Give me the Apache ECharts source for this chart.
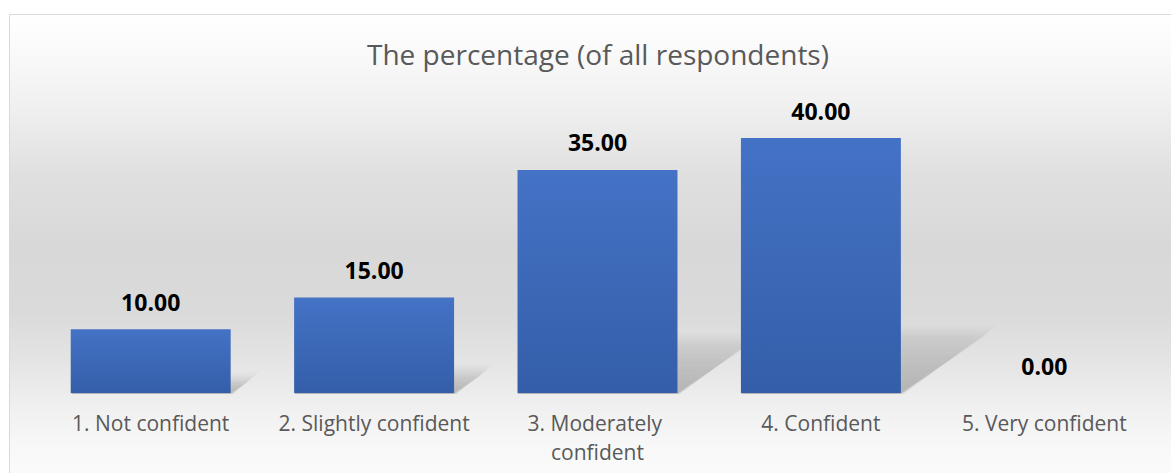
<!DOCTYPE html>
<html>
<head>
<meta charset="utf-8">
<script src="https://cdn.jsdelivr.net/npm/echarts@6/dist/echarts.min.js"></script>
<style>
  html, body { margin: 0; padding: 0; background: #ffffff; }
  #chart { width: 1171px; height: 473px; }
</style>
</head>
<body>
<div id="chart"></div>
<script>
const chartTitle = 'The percentage (of all respondents)';
const categories = ['1. Not confident', '2. Slightly confident', '3. Moderately confident', '4. Confident', '5. Very confident'];
const percentages = [10, 15, 35, 40, 0];

const chart = echarts.init(document.getElementById('chart'), null, { renderer: 'svg' });

const FONT = '"Open Sans", "DejaVu Sans", sans-serif';

const shadowData = percentages.map(function (v, i) { return [i, v]; });

const option = {
  backgroundColor: '#ffffff',
  animation: false,
  graphic: [
    {
      type: 'rect',
      z: -10,
      silent: true,
      shape: { x: 9.5, y: 14.5, width: 1180, height: 480 },
      style: {
        fill: {
          type: 'linear', x: 0, y: 0, x2: 0, y2: 1,
          colorStops: [
            { offset: 0.00, color: '#ffffff' },
            { offset: 0.10, color: '#f8f8f8' },
            { offset: 0.20, color: '#efefef' },
            { offset: 0.33, color: '#e0e0e0' },
            { offset: 0.48, color: '#d8d8d8' },
            { offset: 0.62, color: '#dadada' },
            { offset: 0.72, color: '#e4e4e4' },
            { offset: 0.82, color: '#f0f0f0' },
            { offset: 0.90, color: '#f8f8f8' },
            { offset: 1.00, color: '#fdfdfd' }
          ]
        },
        stroke: '#d9d9d9',
        lineWidth: 1
      }
    }
  ],
  title: {
    text: chartTitle,
    left: 598,
    top: 37,
    padding: 0,
    textAlign: 'center',
    textStyle: {
      fontFamily: FONT,
      fontSize: 28,
      fontWeight: 'normal',
      color: '#595959',
      lineHeight: 34
    }
  },
  grid: {
    left: 39,
    right: 15,
    top: 138,
    bottom: 80,
    containLabel: false
  },
  xAxis: {
    type: 'category',
    data: categories,
    axisLine: { show: false },
    axisTick: { show: false },
    splitLine: { show: false },
    axisLabel: {
      interval: 0,
      margin: 15,
      fontFamily: FONT,
      fontSize: 21,
      color: '#595959',
      lineHeight: 29,
      width: 212,
      overflow: 'break'
    }
  },
  yAxis: {
    type: 'value',
    min: 0,
    max: 40,
    show: false,
    splitLine: { show: false }
  },
  series: [
    {
      type: 'custom',
      z: 1,
      silent: true,
      data: shadowData,
      encode: { x: 0, y: 1 },
      renderItem: function (params, api) {
        const idx = api.value(0);
        const v = api.value(1);
        const base = api.coord([idx, 0]);
        const top = api.coord([idx, v]);
        const h = base[1] - top[1];
        if (h <= 0) return null;
        const bw = api.size([1, 0])[0] * 0.716;
        const x0 = base[0] - bw / 2;
        const x1 = base[0] + bw / 2;
        const y0 = base[1];
        const sh = h * 0.24;
        const dx = h * 0.35;
        const layers = [];
        const n = 6;
        for (let k = 0; k < n; k++) {
          const e = (k - 2) * 2.2;
          layers.push({
            type: 'polygon',
            shape: {
              points: [
                [x0, y0 + 1],
                [x1 + e * 0.4, y0 + 1],
                [x1 + dx + e, y0 - sh - e],
                [x0 + dx + e, y0 - sh - e]
              ]
            },
            style: {
              fill: {
                type: 'linear', x: 0, y: 0, x2: 0, y2: 1,
                colorStops: [
                  { offset: 0, color: 'rgba(0,0,0,0.012)' },
                  { offset: 0.5, color: 'rgba(0,0,0,0.03)' },
                  { offset: 1, color: 'rgba(0,0,0,0.045)' }
                ]
              }
            }
          });
        }
        return { type: 'group', children: layers };
      }
    },
    {
      type: 'bar',
      z: 3,
      data: percentages,
      barWidth: '71.6%',
      itemStyle: {
        color: {
          type: 'linear', x: 0, y: 0, x2: 0, y2: 1,
          colorStops: [
            { offset: 0, color: '#4472c5' },
            { offset: 1, color: '#345ea9' }
          ]
        }
      },
      label: {
        show: true,
        position: 'top',
        distance: 16,
        fontFamily: FONT,
        fontSize: 23,
        fontWeight: 'bold',
        color: '#000000',
        formatter: function (p) { return Number(p.value).toFixed(2); }
      }
    }
  ]
};

chart.setOption(option);
</script>
</body>
</html>
